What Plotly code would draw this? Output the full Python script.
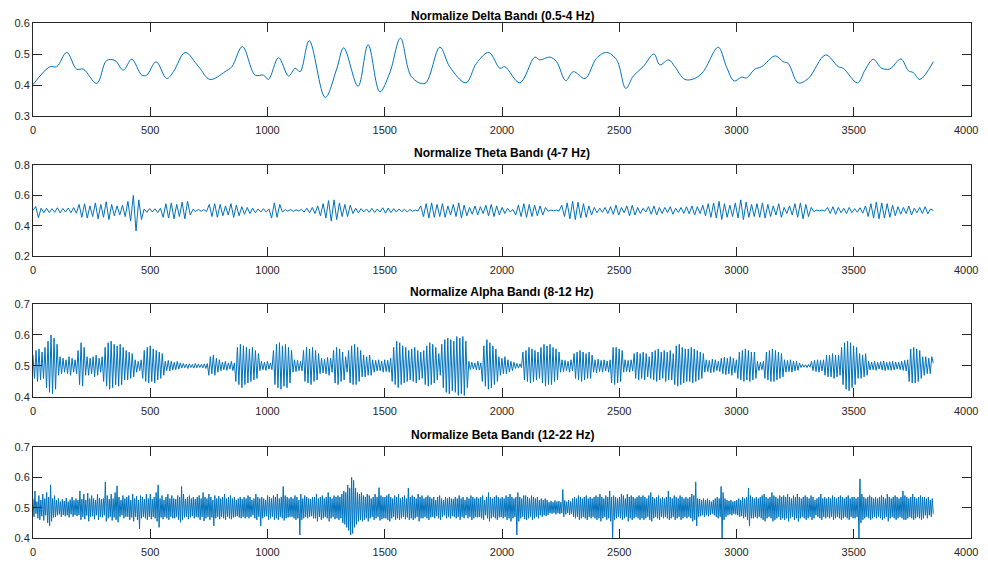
import numpy as np
import plotly.graph_objects as go

# sample index of the last point
N_SAMPLES = 3839

# Delta band: turning points (sample, value)
delta_x = [0, 72, 101, 144, 186, 215, 272, 314, 350, 385, 421, 464, 485, 525, 570, 599, 649, 706, 755, 819,
           848, 893, 947, 983, 1004, 1047, 1090, 1118, 1139, 1178, 1246, 1296, 1325, 1386, 1429, 1479, 1521,
           1567, 1614, 1671, 1735, 1777, 1846, 1891, 1944, 1991, 2012, 2076, 2140, 2161, 2204, 2233, 2272,
           2304, 2354, 2403, 2446, 2489, 2528, 2560, 2602, 2648, 2673, 2711, 2737, 2780, 2822, 2858, 2922,
           2957, 2990, 3021, 3043, 3078, 3107, 3166, 3199, 3220, 3263, 3306, 3380, 3434, 3455, 3516, 3548,
           3583, 3619, 3654, 3701, 3733, 3754, 3782, 3839]
delta_y = [0.401, 0.459, 0.459, 0.505, 0.451, 0.451, 0.405, 0.479, 0.479, 0.448, 0.483, 0.432, 0.432, 0.475,
           0.421, 0.443, 0.505, 0.459, 0.418, 0.443, 0.459, 0.524, 0.432, 0.432, 0.418, 0.488, 0.429, 0.454,
           0.443, 0.543, 0.360, 0.454, 0.520, 0.396, 0.530, 0.378, 0.438, 0.551, 0.427, 0.405, 0.522, 0.459,
           0.407, 0.470, 0.505, 0.454, 0.459, 0.407, 0.490, 0.481, 0.490, 0.475, 0.414, 0.443, 0.421, 0.486,
           0.505, 0.481, 0.389, 0.429, 0.459, 0.500, 0.465, 0.481, 0.459, 0.418, 0.421, 0.443, 0.522, 0.459,
           0.413, 0.425, 0.423, 0.451, 0.459, 0.494, 0.475, 0.470, 0.407, 0.421, 0.497, 0.459, 0.454, 0.407,
           0.448, 0.483, 0.454, 0.452, 0.484, 0.446, 0.440, 0.418, 0.475]

# Theta band: successive peaks / troughs, evenly spread over the samples
theta = [
    0.5, 0.527, 0.452, 0.515, 0.485,
    0.515, 0.486, 0.512, 0.488, 0.518, 0.484, 0.513, 0.49, 0.516, 0.485, 0.519, 0.482,
    0.54, 0.455, 0.545, 0.45, 0.53, 0.46, 0.55, 0.445, 0.54, 0.455, 0.558, 0.44, 0.54,
    0.465, 0.53, 0.47, 0.535, 0.46,
    0.56, 0.43, 0.6, 0.365, 0.57, 0.44,
    0.51, 0.488, 0.513, 0.49, 0.511, 0.487, 0.515,
    0.455, 0.545, 0.45, 0.55, 0.445, 0.54, 0.46, 0.555, 0.445, 0.56,
    0.47, 0.508, 0.494, 0.507, 0.495, 0.506, 0.493,
    0.54, 0.46, 0.545, 0.455, 0.54, 0.465, 0.53, 0.47, 0.545, 0.455, 0.535, 0.465, 0.525, 0.475, 0.52, 0.48,
    0.515, 0.485,
    0.51, 0.49, 0.512, 0.489, 0.51,
    0.45, 0.55, 0.455, 0.54,
    0.49, 0.506, 0.495, 0.507, 0.494, 0.505, 0.496, 0.508,
    0.49, 0.515, 0.485, 0.52, 0.48, 0.53, 0.465, 0.545, 0.45, 0.565, 0.43, 0.57, 0.44, 0.55, 0.46, 0.54,
    0.46, 0.535,
    0.48, 0.515, 0.485, 0.512, 0.49, 0.51, 0.488, 0.514, 0.487, 0.51, 0.49, 0.518, 0.482, 0.516, 0.486, 0.512,
    0.49, 0.51, 0.492, 0.508, 0.49, 0.506, 0.495, 0.503, 0.497,
    0.53, 0.46, 0.545, 0.45, 0.55, 0.455, 0.54, 0.46, 0.545, 0.455, 0.53, 0.47, 0.54, 0.46, 0.55, 0.45,
    0.535, 0.465, 0.52, 0.475, 0.53, 0.47, 0.525, 0.48, 0.535, 0.465, 0.54, 0.46, 0.53, 0.47, 0.52, 0.48, 0.515,
    0.49, 0.507,
    0.47, 0.535, 0.46, 0.545, 0.455, 0.54, 0.46, 0.535, 0.465, 0.53, 0.47, 0.52,
    0.495, 0.503, 0.498, 0.502, 0.497,
    0.535, 0.46, 0.55, 0.445, 0.56, 0.44, 0.555, 0.45, 0.545, 0.455, 0.53, 0.47,
    0.52, 0.485, 0.515, 0.488, 0.52, 0.48, 0.525, 0.475, 0.535, 0.47, 0.52, 0.485, 0.53, 0.465, 0.535, 0.47,
    0.52, 0.48, 0.515, 0.49, 0.525, 0.475, 0.53, 0.47, 0.52,
    0.48, 0.52, 0.485, 0.525, 0.475, 0.515, 0.487, 0.52, 0.48, 0.525, 0.478, 0.53, 0.47, 0.525, 0.48, 0.535,
    0.465,
    0.545, 0.455, 0.55, 0.45, 0.56, 0.44, 0.545, 0.455, 0.535, 0.46, 0.55, 0.45, 0.57, 0.44, 0.555, 0.455,
    0.54, 0.46, 0.545, 0.455, 0.55, 0.45, 0.54, 0.46, 0.53, 0.47, 0.545, 0.455,
    0.52, 0.48, 0.53, 0.47, 0.545, 0.455, 0.55, 0.445, 0.54, 0.46, 0.52,
    0.492, 0.503, 0.498, 0.502, 0.496,
    0.52, 0.48, 0.525, 0.475, 0.52, 0.485, 0.515, 0.48, 0.52, 0.485, 0.512, 0.488, 0.518, 0.482,
    0.53, 0.46, 0.545, 0.45, 0.555, 0.445, 0.55, 0.45, 0.545, 0.455, 0.535, 0.465,
    0.525, 0.475, 0.52, 0.48, 0.53, 0.47, 0.515, 0.485, 0.52, 0.48, 0.525, 0.478, 0.51, 0.5,
]

# Alpha band: successive peaks / troughs
alpha = [
    0.535, 0.46, 0.55, 0.45, 0.555, 0.455, 0.545, 0.46,
    0.56, 0.43, 0.58, 0.415, 0.6, 0.41, 0.59, 0.425, 0.57,
    0.47, 0.53, 0.475, 0.525, 0.48, 0.52, 0.475, 0.53, 0.47, 0.525, 0.48, 0.52, 0.475,
    0.55, 0.44, 0.575, 0.435, 0.56,
    0.47, 0.53, 0.47, 0.525, 0.475, 0.53, 0.465, 0.535, 0.47, 0.525, 0.48, 0.53,
    0.45, 0.56, 0.435, 0.575, 0.425, 0.58, 0.43, 0.57, 0.44, 0.565, 0.435, 0.57, 0.44, 0.56,
    0.455, 0.55, 0.455, 0.545, 0.46, 0.54, 0.465,
    0.52, 0.48, 0.515, 0.485, 0.52,
    0.46, 0.55, 0.45, 0.56, 0.445, 0.565, 0.45, 0.555, 0.445, 0.55, 0.455, 0.545, 0.46, 0.54, 0.47,
    0.515, 0.485, 0.518, 0.484, 0.515, 0.487, 0.512, 0.488, 0.515, 0.49, 0.51,
    0.493, 0.508, 0.494, 0.506, 0.492, 0.507, 0.495, 0.505, 0.493, 0.508, 0.494, 0.506, 0.495, 0.505, 0.494,
    0.507, 0.492, 0.508,
    0.47, 0.53, 0.475, 0.535, 0.47, 0.525, 0.48, 0.52, 0.485,
    0.512, 0.488, 0.515, 0.486, 0.51, 0.49, 0.515, 0.485, 0.51,
    0.45, 0.56, 0.44, 0.57, 0.43, 0.565, 0.44, 0.56, 0.445, 0.555, 0.45, 0.56, 0.455, 0.55, 0.46, 0.54,
    0.485, 0.515, 0.488, 0.512, 0.486, 0.515, 0.49, 0.51, 0.488,
    0.55, 0.44, 0.57, 0.43, 0.575, 0.425, 0.565, 0.435, 0.57, 0.43, 0.56, 0.445, 0.55,
    0.48, 0.52, 0.482, 0.518, 0.485, 0.515, 0.484,
    0.55, 0.45, 0.56, 0.445, 0.555, 0.44, 0.56, 0.45, 0.55, 0.455, 0.54,
    0.475, 0.525, 0.478, 0.522, 0.475, 0.528, 0.47, 0.525, 0.48,
    0.55, 0.445, 0.56, 0.44, 0.555, 0.45, 0.545, 0.455, 0.53, 0.48,
    0.55, 0.445, 0.565, 0.44, 0.57, 0.44, 0.56, 0.45, 0.55,
    0.465, 0.535, 0.465, 0.53, 0.47, 0.535, 0.47,
    0.52, 0.48, 0.518, 0.484, 0.52, 0.485, 0.515, 0.48, 0.52, 0.482, 0.518, 0.48, 0.525,
    0.45, 0.56, 0.44, 0.58, 0.43, 0.575, 0.44, 0.565, 0.445, 0.56, 0.45,
    0.55, 0.455, 0.555, 0.45, 0.56, 0.445, 0.55, 0.455, 0.545, 0.46, 0.55,
    0.44, 0.565, 0.435, 0.575, 0.44, 0.57, 0.445, 0.56, 0.455, 0.54, 0.47,
    0.57, 0.43, 0.585, 0.415, 0.59, 0.41, 0.585, 0.42, 0.58, 0.415, 0.595, 0.405, 0.59, 0.41, 0.595, 0.405,
    0.58, 0.43,
    0.515, 0.488, 0.512, 0.49, 0.51, 0.488, 0.515, 0.487, 0.51,
    0.45, 0.565, 0.435, 0.585, 0.425, 0.575, 0.43, 0.565, 0.44, 0.555, 0.45,
    0.53, 0.47, 0.525, 0.475, 0.53, 0.475, 0.52, 0.48, 0.515, 0.485, 0.512,
    0.492, 0.508, 0.493, 0.507, 0.495,
    0.545, 0.455, 0.55, 0.45, 0.56, 0.445, 0.555, 0.45, 0.55, 0.455, 0.545, 0.46,
    0.56, 0.445, 0.57, 0.435, 0.565, 0.44, 0.57, 0.44, 0.56, 0.45, 0.555, 0.455, 0.545,
    0.48, 0.52, 0.482, 0.518, 0.485, 0.515, 0.48, 0.52, 0.484,
    0.54, 0.46, 0.545, 0.455, 0.55, 0.45, 0.545, 0.455, 0.54, 0.46, 0.545, 0.46, 0.535,
    0.48, 0.52, 0.478, 0.522, 0.482, 0.518, 0.48, 0.52, 0.484, 0.516, 0.48, 0.52,
    0.445, 0.56, 0.44, 0.56, 0.445, 0.555, 0.45, 0.55,
    0.48, 0.52, 0.482, 0.518, 0.48, 0.52, 0.484,
    0.54, 0.46, 0.545, 0.455, 0.54, 0.46, 0.545, 0.455, 0.54, 0.465, 0.53,
    0.46, 0.545, 0.455, 0.55, 0.45, 0.555, 0.455, 0.545, 0.46, 0.55, 0.45, 0.545, 0.455, 0.55, 0.455, 0.54,
    0.44, 0.565, 0.435, 0.57, 0.44, 0.56, 0.445, 0.555, 0.45,
    0.555, 0.45, 0.56, 0.445, 0.555, 0.45, 0.55, 0.455, 0.545, 0.46, 0.54,
    0.48, 0.52, 0.482, 0.518, 0.478, 0.522, 0.48, 0.52, 0.485, 0.515, 0.482,
    0.525, 0.475, 0.528, 0.472, 0.525, 0.475, 0.53, 0.47, 0.525, 0.478, 0.52,
    0.46, 0.545, 0.455, 0.55, 0.45, 0.555, 0.455, 0.55, 0.45, 0.545, 0.455, 0.545, 0.46,
    0.515, 0.485, 0.512, 0.488, 0.515,
    0.46, 0.545, 0.455, 0.55, 0.45, 0.555, 0.45, 0.55, 0.455, 0.545, 0.46, 0.54, 0.465,
    0.52, 0.48, 0.518, 0.482, 0.52, 0.48, 0.516, 0.484, 0.515, 0.486, 0.51,
    0.495, 0.505, 0.496, 0.504, 0.495, 0.505, 0.496,
    0.515, 0.485, 0.518, 0.482, 0.52, 0.48, 0.518, 0.484, 0.52,
    0.47, 0.535, 0.465, 0.535, 0.465, 0.54, 0.46, 0.535, 0.465, 0.535, 0.47,
    0.56, 0.44, 0.575, 0.425, 0.58, 0.42, 0.575, 0.43, 0.565, 0.44, 0.56,
    0.46, 0.54, 0.46, 0.535, 0.465, 0.54, 0.47,
    0.515, 0.487, 0.513, 0.488, 0.515, 0.486, 0.512, 0.49, 0.514, 0.487, 0.516, 0.485, 0.512, 0.488, 0.514,
    0.486, 0.515, 0.487, 0.513, 0.49, 0.512, 0.488, 0.515, 0.486, 0.518, 0.484, 0.52,
    0.45, 0.555, 0.445, 0.56, 0.445, 0.555, 0.45, 0.55, 0.46,
    0.53, 0.47, 0.53, 0.475, 0.525, 0.475, 0.53, 0.51,
]

# Beta band: successive peaks / troughs, one row per ~100 samples
beta = [
    0.53, 0.47, 0.555, 0.48, 0.52, 0.465, 0.54, 0.46, 0.525, 0.472, 0.545, 0.458, 0.53, 0.475, 0.55, 0.45, 0.535, 0.44, 0.575, 0.455, 0.53, 0.468, 0.54, 0.47,
    0.525, 0.475, 0.53, 0.478, 0.52, 0.47, 0.528, 0.476, 0.522, 0.472, 0.532, 0.475, 0.52, 0.468, 0.526, 0.478, 0.535, 0.47, 0.524, 0.476, 0.53, 0.472, 0.525, 0.476,
    0.555, 0.46, 0.528, 0.47, 0.545, 0.462, 0.525, 0.474, 0.548, 0.455, 0.53, 0.47, 0.54, 0.472, 0.53, 0.462, 0.525, 0.475, 0.545, 0.46, 0.532, 0.47, 0.528, 0.468,
    0.53, 0.475, 0.585, 0.455, 0.54, 0.465, 0.528, 0.47, 0.545, 0.458, 0.53, 0.468, 0.55, 0.46, 0.572, 0.452, 0.535, 0.47, 0.525, 0.475, 0.54, 0.465, 0.53, 0.47,
    0.535, 0.47, 0.54, 0.46, 0.525, 0.468, 0.545, 0.455, 0.53, 0.47, 0.538, 0.46, 0.525, 0.43, 0.54, 0.465, 0.535, 0.47, 0.528, 0.465, 0.545, 0.46, 0.53, 0.47,
    0.545, 0.462, 0.528, 0.47, 0.535, 0.465, 0.55, 0.455, 0.575, 0.435, 0.53, 0.468, 0.54, 0.462, 0.525, 0.47, 0.535, 0.465, 0.545, 0.46, 0.53, 0.47, 0.54, 0.465,
    0.53, 0.465, 0.528, 0.47, 0.54, 0.46, 0.535, 0.452, 0.57, 0.46, 0.545, 0.468, 0.528, 0.47, 0.535, 0.462, 0.54, 0.468, 0.53, 0.472, 0.535, 0.465, 0.528, 0.47,
    0.535, 0.468, 0.54, 0.46, 0.53, 0.47, 0.55, 0.456, 0.535, 0.465, 0.53, 0.47, 0.545, 0.46, 0.535, 0.468, 0.525, 0.44, 0.54, 0.465, 0.53, 0.47, 0.538, 0.462,
    0.53, 0.47, 0.535, 0.465, 0.545, 0.46, 0.53, 0.47, 0.535, 0.465, 0.54, 0.462, 0.53, 0.468, 0.535, 0.47, 0.525, 0.472, 0.53, 0.468, 0.535, 0.465, 0.528, 0.47,
    0.535, 0.465, 0.53, 0.47, 0.54, 0.465, 0.535, 0.47, 0.525, 0.475, 0.53, 0.465, 0.545, 0.46, 0.535, 0.47, 0.53, 0.44, 0.535, 0.465, 0.53, 0.47, 0.525, 0.472,
    0.54, 0.46, 0.535, 0.465, 0.53, 0.47, 0.54, 0.46, 0.535, 0.465, 0.545, 0.46, 0.53, 0.47, 0.535, 0.465, 0.57, 0.458, 0.54, 0.465, 0.535, 0.468, 0.53, 0.47,
    0.535, 0.47, 0.53, 0.465, 0.54, 0.46, 0.535, 0.465, 0.525, 0.41, 0.545, 0.46, 0.53, 0.465, 0.54, 0.47, 0.535, 0.465, 0.53, 0.47, 0.528, 0.472, 0.535, 0.465,
    0.535, 0.465, 0.545, 0.455, 0.53, 0.47, 0.535, 0.46, 0.54, 0.465, 0.53, 0.47, 0.535, 0.465, 0.55, 0.455, 0.535, 0.465, 0.53, 0.47, 0.54, 0.462, 0.535, 0.465,
    0.54, 0.46, 0.535, 0.465, 0.545, 0.45, 0.555, 0.445, 0.55, 0.435, 0.575, 0.425, 0.565, 0.41, 0.6, 0.415, 0.59, 0.435, 0.565, 0.445, 0.55, 0.455, 0.545, 0.46,
    0.55, 0.455, 0.54, 0.46, 0.535, 0.465, 0.545, 0.455, 0.54, 0.465, 0.53, 0.47, 0.535, 0.46, 0.545, 0.465, 0.535, 0.47, 0.566, 0.458, 0.54, 0.462, 0.535, 0.465,
    0.535, 0.465, 0.54, 0.46, 0.545, 0.455, 0.535, 0.465, 0.53, 0.47, 0.54, 0.46, 0.535, 0.465, 0.545, 0.46, 0.53, 0.465, 0.535, 0.47, 0.54, 0.462, 0.53, 0.468,
    0.565, 0.46, 0.535, 0.465, 0.54, 0.46, 0.535, 0.465, 0.53, 0.47, 0.545, 0.455, 0.535, 0.465, 0.54, 0.465, 0.53, 0.47, 0.535, 0.465, 0.54, 0.46, 0.535, 0.468,
    0.53, 0.47, 0.535, 0.465, 0.525, 0.472, 0.535, 0.465, 0.54, 0.46, 0.53, 0.47, 0.525, 0.475, 0.535, 0.465, 0.53, 0.47, 0.535, 0.465, 0.53, 0.472, 0.528, 0.47,
    0.535, 0.465, 0.53, 0.47, 0.54, 0.46, 0.53, 0.47, 0.535, 0.465, 0.525, 0.475, 0.535, 0.465, 0.53, 0.47, 0.54, 0.46, 0.535, 0.465, 0.53, 0.47, 0.535, 0.468,
    0.53, 0.47, 0.535, 0.465, 0.54, 0.46, 0.525, 0.475, 0.535, 0.465, 0.55, 0.455, 0.535, 0.465, 0.53, 0.47, 0.535, 0.465, 0.54, 0.46, 0.535, 0.468, 0.53, 0.47,
    0.535, 0.465, 0.53, 0.47, 0.54, 0.46, 0.535, 0.465, 0.545, 0.455, 0.535, 0.465, 0.53, 0.47, 0.535, 0.41, 0.55, 0.455, 0.535, 0.465, 0.53, 0.47, 0.54, 0.462,
    0.54, 0.46, 0.535, 0.465, 0.53, 0.47, 0.54, 0.46, 0.535, 0.465, 0.53, 0.47, 0.535, 0.465, 0.525, 0.475, 0.53, 0.47, 0.525, 0.475, 0.53, 0.472, 0.525, 0.476,
    0.518, 0.482, 0.522, 0.48, 0.518, 0.483, 0.524, 0.478, 0.52, 0.482, 0.522, 0.479, 0.518, 0.482, 0.56, 0.47, 0.524, 0.478, 0.52, 0.482, 0.525, 0.476, 0.52, 0.48,
    0.53, 0.47, 0.535, 0.465, 0.53, 0.47, 0.54, 0.46, 0.535, 0.465, 0.53, 0.47, 0.535, 0.465, 0.54, 0.46, 0.53, 0.47, 0.535, 0.465, 0.53, 0.47, 0.535, 0.465,
    0.54, 0.46, 0.535, 0.465, 0.545, 0.455, 0.535, 0.465, 0.53, 0.47, 0.54, 0.46, 0.535, 0.465, 0.555, 0.455, 0.535, 0.4, 0.54, 0.46, 0.535, 0.465, 0.53, 0.47,
    0.535, 0.465, 0.545, 0.46, 0.54, 0.465, 0.53, 0.47, 0.545, 0.455, 0.535, 0.465, 0.54, 0.46, 0.535, 0.465, 0.53, 0.47, 0.535, 0.465, 0.54, 0.46, 0.535, 0.465,
    0.54, 0.46, 0.535, 0.465, 0.53, 0.47, 0.54, 0.46, 0.55, 0.455, 0.535, 0.465, 0.53, 0.47, 0.535, 0.465, 0.54, 0.46, 0.53, 0.47, 0.535, 0.465, 0.53, 0.47,
    0.535, 0.465, 0.555, 0.46, 0.535, 0.465, 0.53, 0.47, 0.54, 0.46, 0.535, 0.465, 0.53, 0.47, 0.54, 0.46, 0.535, 0.465, 0.53, 0.47, 0.535, 0.465, 0.53, 0.47,
    0.535, 0.465, 0.545, 0.455, 0.54, 0.46, 0.585, 0.44, 0.53, 0.47, 0.528, 0.472, 0.525, 0.475, 0.53, 0.47, 0.525, 0.475, 0.53, 0.472, 0.525, 0.476, 0.52, 0.48,
    0.525, 0.475, 0.53, 0.47, 0.535, 0.465, 0.53, 0.47, 0.57, 0.4, 0.55, 0.46, 0.53, 0.47, 0.525, 0.475, 0.522, 0.478, 0.525, 0.475, 0.52, 0.48, 0.522, 0.478,
    0.525, 0.475, 0.53, 0.47, 0.525, 0.472, 0.535, 0.465, 0.53, 0.47, 0.535, 0.46, 0.565, 0.44, 0.54, 0.465, 0.535, 0.465, 0.53, 0.47, 0.535, 0.465, 0.53, 0.47,
    0.535, 0.465, 0.54, 0.46, 0.545, 0.455, 0.535, 0.465, 0.53, 0.47, 0.535, 0.465, 0.55, 0.455, 0.54, 0.46, 0.535, 0.465, 0.53, 0.47, 0.54, 0.46, 0.535, 0.465,
    0.54, 0.46, 0.535, 0.465, 0.545, 0.455, 0.535, 0.465, 0.53, 0.47, 0.54, 0.46, 0.535, 0.465, 0.545, 0.455, 0.535, 0.465, 0.53, 0.47, 0.535, 0.465, 0.54, 0.46,
    0.535, 0.465, 0.53, 0.47, 0.54, 0.46, 0.535, 0.465, 0.525, 0.475, 0.53, 0.47, 0.535, 0.465, 0.545, 0.46, 0.53, 0.47, 0.535, 0.465, 0.53, 0.47, 0.535, 0.465,
    0.53, 0.47, 0.54, 0.46, 0.535, 0.465, 0.53, 0.47, 0.535, 0.465, 0.54, 0.46, 0.535, 0.465, 0.53, 0.47, 0.535, 0.465, 0.54, 0.46, 0.53, 0.47, 0.535, 0.465,
    0.535, 0.465, 0.53, 0.47, 0.535, 0.4, 0.595, 0.45, 0.545, 0.46, 0.535, 0.465, 0.53, 0.47, 0.535, 0.465, 0.54, 0.46, 0.535, 0.465, 0.53, 0.47, 0.535, 0.465,
    0.53, 0.47, 0.535, 0.465, 0.54, 0.46, 0.535, 0.465, 0.53, 0.47, 0.545, 0.455, 0.535, 0.465, 0.53, 0.47, 0.535, 0.465, 0.54, 0.46, 0.535, 0.465, 0.53, 0.47,
    0.535, 0.465, 0.555, 0.46, 0.54, 0.46, 0.535, 0.465, 0.53, 0.47, 0.535, 0.465, 0.545, 0.46, 0.535, 0.465, 0.53, 0.47, 0.535, 0.465, 0.54, 0.46, 0.535, 0.465,
    0.535, 0.475, 0.53, 0.465, 0.535, 0.475, 0.525, 0.47, 0.53, 0.48,
]

titles = ["Normalize Delta Bandı (0.5-4 Hz)", "Normalize Theta Bandı (4-7 Hz)",
          "Normalize Alpha Bandı (8-12 Hz)", "Normalize Beta Bandı (12-22 Hz)"]
y_ranges = [[0.3, 0.6], [0.2, 0.8], [0.4, 0.7], [0.4, 0.7]]
y_ticks = [[0.3, 0.4, 0.5, 0.6], [0.2, 0.4, 0.6, 0.8], [0.4, 0.5, 0.6, 0.7], [0.4, 0.5, 0.6, 0.7]]
x_ticks = [0, 500, 1000, 1500, 2000, 2500, 3000, 3500, 4000]
x_labels = ['0', '500', '1000', '1500', '2000', '2500', '3000', '3500', '4000']

LINE = '#0072BD'
AX = '#262626'
FONT = 'Liberation Sans, Arial'
domains = [[0.8194, 1.0], [0.5476, 0.7243], [0.2738, 0.4544], [0.0, 0.1767]]

fig = go.Figure()
fig.add_trace(go.Scatter(x=delta_x, y=delta_y, mode='lines', line=dict(color=LINE, width=1, shape='spline', smoothing=1.0),
                         xaxis='x', yaxis='y'))
for i, arr in enumerate([theta, alpha, beta]):
    n = i + 2
    fig.add_trace(go.Scatter(x=np.linspace(0, N_SAMPLES, len(arr)), y=arr, mode='lines',
                             line=dict(color=LINE, width=1), xaxis='x%d' % n, yaxis='y%d' % n))

# the page body adds an 8px margin, so the figure is a bit smaller than the window
layout = dict(width=980, height=551, showlegend=False, plot_bgcolor='white', paper_bgcolor='white',
              margin=dict(l=25, r=17, t=15, b=21, autoexpand=False),
              font=dict(family=FONT, size=11, color=AX))
annotations = []
for i in range(4):
    sfx = '' if i == 0 else str(i + 1)
    axis_common = dict(showline=True, linecolor=AX, linewidth=1, mirror='ticks', ticks='inside', ticklen=9,
                       tickcolor=AX, tickwidth=1, showgrid=False, zeroline=False, automargin=False,
                       tickfont=dict(family=FONT, size=11, color=AX))
    # last x label is drawn as an annotation, nudged left so the page edge does not cut it
    layout['xaxis' + sfx] = dict(axis_common, range=[0, 4000], tickvals=x_ticks,
                                 ticktext=x_labels[:-1] + [''], ticklabelstandoff=4,
                                 anchor='y' + sfx, domain=[0, 1])
    layout['yaxis' + sfx] = dict(axis_common, range=y_ranges[i], tickvals=y_ticks[i], tickformat='.1f',
                                 anchor='x' + sfx, domain=domains[i])
    annotations.append(dict(text=x_labels[-1], x=x_ticks[-1], xref='x' + sfx, y=0, yref='y%s domain' % sfx,
                            xanchor='right', xshift=9, yanchor='middle', yshift=-14, showarrow=False,
                            font=dict(family=FONT, size=11, color=AX)))
    # top title sits close to the page edge, keep it inside the figure
    annotations.append(dict(text='<b>%s</b>' % titles[i], x=0.5, xref='paper', y=domains[i][1], yref='paper',
                            yanchor='bottom', yshift=-2 if i == 0 else 3, showarrow=False,
                            font=dict(family=FONT, size=12, color='black')))
layout['annotations'] = annotations
fig.update_layout(**layout)

fig.write_html("out.html")
